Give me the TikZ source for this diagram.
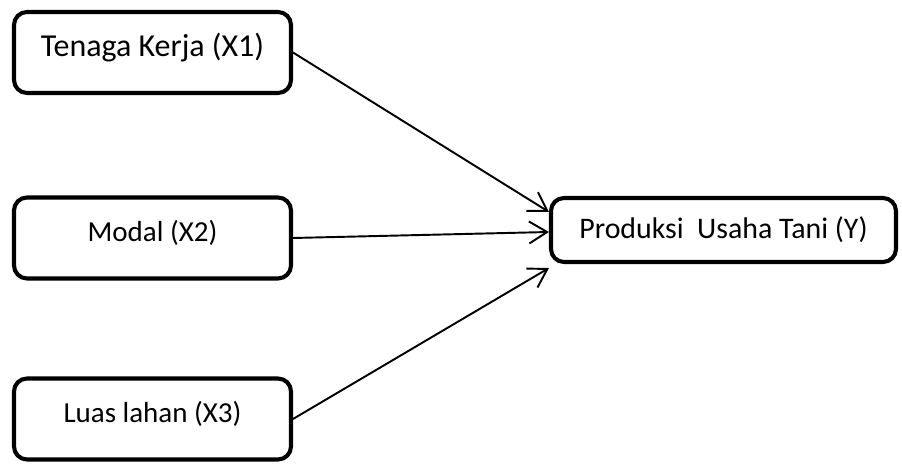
\documentclass[tikz,border=0pt]{standalone}
\usepackage{fontspec}
\setmainfont{Carlito}
\usepackage{tikz}
\usetikzlibrary{arrows.meta,positioning,calc}

\begin{document}
\begin{tikzpicture}[
  font=\fontsize{16.5}{20}\selectfont,
  var/.style={rectangle, rounded corners=0.26cm, draw, line width=2.3pt,
    minimum width=5.54cm, minimum height=1.62cm, align=center,
    text height=12pt, text depth=8pt},
  result/.style={var, minimum width=6.9cm, minimum height=1.28cm,
    text height=, text depth=, font=\fontsize{17}{20}\selectfont},
  link/.style={-{Straight Barb[length=0.36cm,width=0.44cm]}, line width=1.1pt}
]
\useasboundingbox (0,0) rectangle (18.04,9.30);

% ================= LEFT: variables X =================
\node[var, font=\fontsize{18.2}{22}\selectfont] (x1) at (3.05,8.25) {Tenaga Kerja (X1)};
\node[var] (x2) at (3.05,4.54) {Modal (X2)};
\node[var] (x3) at (3.05,0.92) {Luas lahan (X3)};

% ================= RIGHT: Y =================
\node[result] (y) at (14.47,4.70) {Produksi\ \ Usaha Tani (Y)};

% ================= Links =================
\draw[link] (x1.east) -- ([yshift=0.36cm]y.west);
\draw[link] (x2.east) -- ([yshift=-0.04cm]y.west);
\draw[link] (x3.east) -- ([yshift=-0.76cm]y.west);

\end{tikzpicture}
\end{document}
